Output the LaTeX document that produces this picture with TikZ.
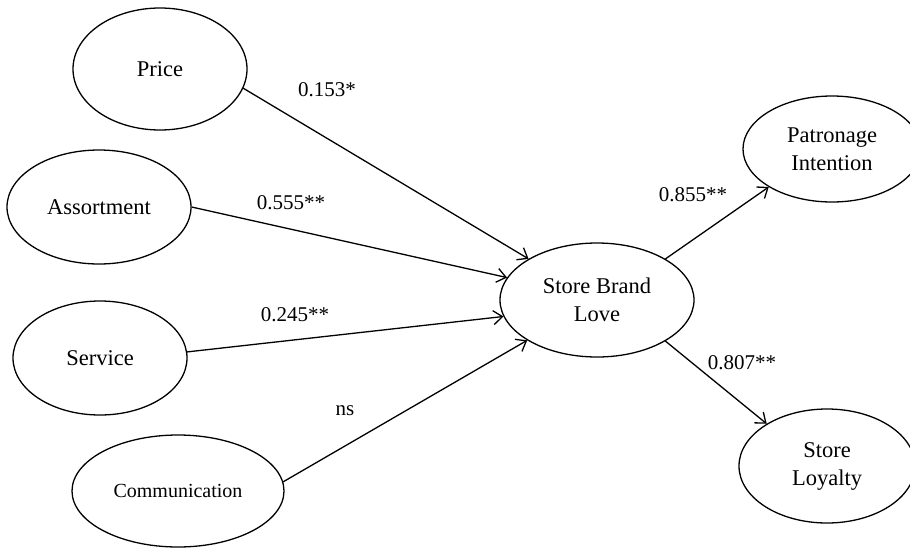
\documentclass[tikz,border=0pt]{standalone}
\usepackage{fontspec}
\setmainfont{Liberation Serif}
\usetikzlibrary{shapes.geometric,arrows.meta}
\tikzset{
  construct/.style={draw, ellipse, line width=1.3pt, inner sep=0pt, align=center,
    font=\fontsize{22.5}{28}\selectfont},
  path/.style={line width=1.3pt, -{Straight Barb[length=9pt,width=14pt,line width=1.3pt]}},
  coef/.style={font=\fontsize{21}{25}\selectfont, inner sep=0pt}
}
\begin{document}
\begin{tikzpicture}[x=1pt,y=-1pt]
\clip (0,0) rectangle (910,547);
\fill[white] (0,0) rectangle (910,547);
\node[construct, minimum width=174pt, minimum height=122pt] (price) at (160,69) {Price};
\node[construct, minimum width=184pt, minimum height=114pt] (assort) at (99,207) {Assortment};
\node[construct, minimum width=174pt, minimum height=114pt] (serv) at (100,358) {Service};
\node[construct, minimum width=212pt, minimum height=112pt, font=\fontsize{20}{24}\selectfont] (comm) at (178,491) {Communication};
\node[construct, minimum width=194pt, minimum height=114pt] (sbl) at (597,300) {Store Brand\\Love};
\node[construct, minimum width=178pt, minimum height=106pt] (pi) at (832,149) {Patronage\\Intention};
\node[construct, minimum width=176pt, minimum height=114pt] (sl) at (827,466) {Store\\Loyalty};

\draw[path] (price.-13) -- (sbl.149);
\draw[path] (assort.0) -- (sbl.166);
\draw[path] (serv.4) -- (sbl.190);
\draw[path] (comm.5) -- (sbl.210);
\draw[path] (sbl.31) -- (pi.211);
\draw[path] (sbl.-31) -- (sl.145);

\node[coef] (l1) at (327,90) {0.153*};
\node[coef] (l2) at (291,203) {0.555**};
\node[coef] (l3) at (295,315) {0.245**};
\node[coef] (l4) at (345,411) {ns};
\node[coef] (l5) at (693,195) {0.855**};
\node[coef] (l6) at (742,363) {0.807**};
\end{tikzpicture}
\end{document}
